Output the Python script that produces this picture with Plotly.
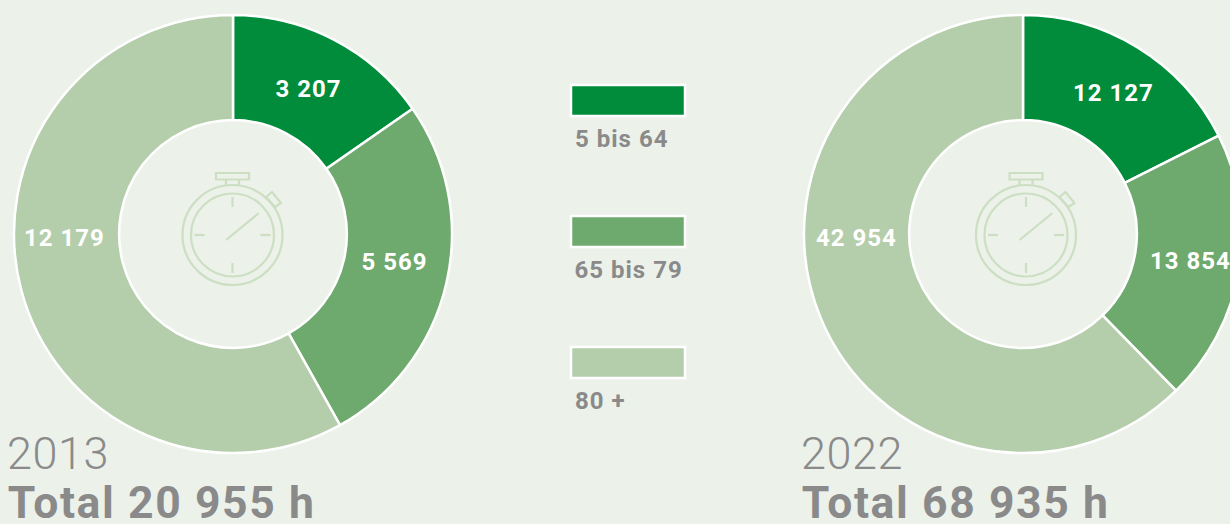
import plotly.graph_objects as go

W, H = 1260, 524
categories = ["5 bis 64", "65 bis 79", "80 +"]
values_2013 = [3207, 5569, 12179]
values_2022 = [12127, 13854, 42954]
colors = ["#008C3A", "#6EA96D", "#B4CDAA"]
years = ["2013", "2022"]
totals = ["Total 20 955 h", "Total 68 935 h"]
BG = "#ECF1EA"
GREY = "#8A8A8A"
ICON = "#CDDFC3"

def fmt(v):
    s = str(v)
    return s[:-3] + " " + s[-3:]

def donut(vals, cx, cy=234, r=219):
    return go.Pie(
        labels=categories, values=vals, sort=False, direction="clockwise", rotation=0,
        hole=0.52, textinfo="none",
        marker=dict(colors=colors, line=dict(color="white", width=2.5)),
        domain=dict(x=[(cx - r) / W, (cx + r) / W], y=[1 - (cy + r) / H, 1 - (cy - r) / H]),
        showlegend=False, hoverinfo="label+value",
    )

fig = go.Figure([donut(values_2013, 233), donut(values_2022, 1023)])
shapes, annotations = [], []

def line(x0, y0, x1, y1, color=ICON, w=2.2):
    shapes.append(dict(type="line", xref="x", yref="y", x0=x0, y0=y0, x1=x1, y1=y1,
                       line=dict(color=color, width=w)))

def watch(cx, cy):
    ln = dict(color=ICON, width=2.2)
    for r in (50, 41.5):
        shapes.append(dict(type="circle", xref="x", yref="y", x0=cx - r, x1=cx + r,
                           y0=cy - r, y1=cy + r, line=ln))
    shapes.append(dict(type="rect", xref="x", yref="y", x0=cx - 16.5, x1=cx + 16.5,
                       y0=cy - 62, y1=cy - 55.5, line=ln))
    line(cx - 6.5, cy - 55.5, cx - 6.5, cy - 50)
    line(cx + 6.5, cy - 55.5, cx + 6.5, cy - 50)
    for a, b, c, d in [(0, -38, 0, -28), (0, 28, 0, 38), (-38, 0, -28, 0), (28, 0, 38, 0),
                       (-6.5, 5, 26.5, -22)]:
        line(cx + a, cy + b, cx + c, cy + d)
    pts = [(33.5, -38), (39.5, -43), (48.5, -32), (42.5, -28)]
    path = "M " + " L ".join(f"{cx + x},{cy + y}" for x, y in pts) + " Z"
    shapes.append(dict(type="path", xref="x", yref="y", path=path, line=ln))

watch(232.5, 235)
watch(1026, 235)

def label(v, x, y):
    annotations.append(dict(xref="x", yref="y", x=x, y=y, text=f"<b>{fmt(v)}</b>", showarrow=False,
                            xanchor="center", yanchor="middle",
                            font=dict(family="Roboto", size=24, color="white")))

for vals, anchors in [(values_2013, [(308, 89), (394, 262), (64, 238)]),
                      (values_2022, [(1113, 93), (1190, 261), (856, 238)])]:
    for v, (x, y) in zip(vals, anchors):
        label(v, x, y)

for lab, col, y0 in zip(categories, colors, [85, 216, 347]):
    shapes.append(dict(type="rect", xref="x", yref="y", x0=571, x1=685, y0=y0, y1=y0 + 31,
                       fillcolor=col, line=dict(color="white", width=2.5)))
    annotations.append(dict(xref="x", yref="y", x=572.5 + len(lab) / 2, y=y0 + 54, text=f"<b>{lab}</b>",
                            showarrow=False, xanchor="left", yanchor="middle",
                            font=dict(family="Roboto", size=24, color=GREY)))

for yr, tot, start in zip(years, totals, [8, 802]):
    annotations.append(dict(xref="x", yref="y", x=start - 2, y=453, text=yr, showarrow=False, xanchor="left",
                            yanchor="middle", font=dict(family="Roboto Light, Roboto", size=45, color=GREY)))
    annotations.append(dict(xref="x", yref="y", x=start + 8.7, y=503, text=f"<b>{tot}</b>", showarrow=False,
                            xanchor="left", yanchor="middle",
                            font=dict(family="Roboto", size=44.5, color=GREY)))

fig.update_layout(
    width=W, height=H, margin=dict(l=0, r=0, t=0, b=0), autosize=False,
    paper_bgcolor=BG, plot_bgcolor=BG,
    xaxis=dict(range=[0, W], visible=False, fixedrange=True, domain=[0, 1]),
    yaxis=dict(range=[H, 0], visible=False, fixedrange=True, domain=[0, 1]),
    shapes=shapes, annotations=annotations,
)
fig.add_trace(go.Scatter(x=[None], y=[None], showlegend=False, hoverinfo="skip"))
fig.write_html("out.html", config=dict(displayModeBar=False),
               post_script="document.documentElement.style.overflow='hidden';document.body.style.margin='0';document.body.style.overflow='hidden';document.body.style.background='#ECF1EA';document.querySelectorAll('.annotation-text').forEach(function(t){var s=parseFloat(t.style.fontSize);t.style.letterSpacing=(s==44.5?1.6:(s==45?0.5:1))+'px';});")
